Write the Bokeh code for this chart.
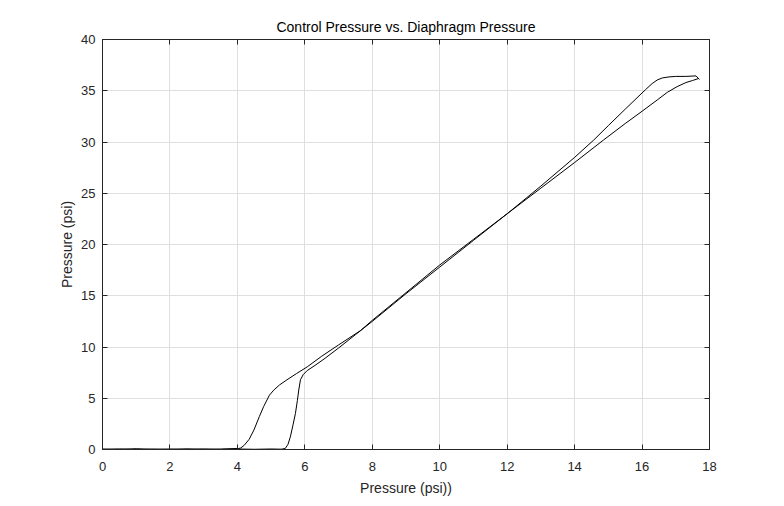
from bokeh.plotting import figure
from bokeh.models import LinearAxis, Range1d, FixedTicker
from bokeh.embed import file_html
from bokeh.resources import INLINE

# Rising branch (right branch near bottom, lower branch near top)
rise_x = [0.0, 0.5, 1.0, 1.5, 2.0, 2.5, 3.0, 3.5, 4.0, 4.5, 5.0, 5.3, 5.42, 5.5, 5.57, 5.65, 5.72, 5.78, 5.82, 5.87,
          5.95, 6.07, 6.3, 6.6, 7.0, 7.5, 8.0, 9.0, 10.0, 11.0, 12.0, 13.0, 14.0, 14.86, 15.5, 16.0, 16.45, 16.75,
          17.04, 17.3, 17.5, 17.68]
rise_y = [0.05, 0.0, 0.08, 0.0, 0.05, 0.0, 0.06, 0.0, 0.05, 0.02, 0.05, 0.03, 0.1, 0.5, 1.23, 2.4, 3.5, 4.8, 5.8, 6.8,
          7.3, 7.7, 8.2, 8.9, 9.9, 11.2, 12.5, 15.2, 17.8, 20.4, 23.0, 25.5, 28.0, 30.2, 31.8, 33.0, 34.1, 34.85,
          35.4, 35.8, 36.0, 36.2]

# Falling branch (upper branch near top, left branch near bottom)
fall_x = [17.7, 17.6, 17.3, 17.0, 16.8, 16.6, 16.45, 16.3, 16.1, 15.5, 15.0, 14.57, 14.0, 13.0, 12.0, 11.0, 10.0,
          9.0, 8.0, 7.65, 7.0, 6.5, 6.07, 5.75, 5.47, 5.25, 5.08, 4.95, 4.78, 4.65, 4.49, 4.35, 4.2, 4.1, 4.04,
          3.5, 3.0, 2.5, 2.0, 1.5, 1.0, 0.5, 0.0]
fall_y = [36.1, 36.45, 36.4, 36.4, 36.35, 36.25, 36.05, 35.7, 35.1, 33.2, 31.6, 30.2, 28.5, 25.7, 23.0, 20.5, 18.0,
          15.3, 12.6, 11.6, 10.2, 9.1, 8.06, 7.4, 6.8, 6.3, 5.8, 5.3, 4.2, 3.2, 1.9, 1.0, 0.4, 0.15, 0.1,
          0.05, 0.0, 0.07, 0.0, 0.05, 0.0, 0.06, 0.0]

x_ticks = [0, 2, 4, 6, 8, 10, 12, 14, 16, 18]
y_ticks = [0, 5, 10, 15, 20, 25, 30, 35, 40]

FONT = "Liberation Sans"
AX = "#262626"

p = figure(width=768, height=500, output_backend="svg", toolbar_location=None,
           x_range=Range1d(0, 18), y_range=Range1d(0, 40),
           min_border_left=102, min_border_right=59, min_border_top=39, min_border_bottom=51,
           title="Control Pressure vs. Diaphragm Pressure")
p.title.align = "center"
p.title.text_font = FONT
p.title.text_font_size = "14px"
p.title.text_font_style = "normal"
p.title.text_color = "#000000"
p.title.offset = 0

p.outline_line_color = AX
p.outline_line_width = 1
p.background_fill_color = "white"
p.border_fill_color = "white"

for ax, ticks in ((p.xaxis[0], x_ticks), (p.yaxis[0], y_ticks)):
    ax.ticker = FixedTicker(ticks=ticks)
    ax.major_tick_in = 5
    ax.major_tick_out = 0
    ax.minor_tick_in = 0
    ax.minor_tick_out = 0
    ax.axis_line_color = AX
    ax.major_tick_line_color = AX
    ax.major_label_text_font = FONT
    ax.major_label_text_font_size = "13px"
    ax.major_label_text_color = AX
    ax.axis_label_text_font = FONT
    ax.axis_label_text_font_size = "14px"
    ax.axis_label_text_font_style = "normal"
    ax.axis_label_text_color = AX

p.xaxis[0].axis_label = "Pressure (psi))"
p.yaxis[0].axis_label = "Pressure (psi)"
p.xaxis[0].major_label_standoff = 12
p.xaxis[0].axis_label_standoff = 6
p.yaxis[0].major_label_standoff = 7
p.yaxis[0].axis_label_standoff = 3

for side, ticks in (("above", x_ticks), ("right", y_ticks)):
    a = LinearAxis(ticker=FixedTicker(ticks=ticks), major_tick_in=5, major_tick_out=0,
                   minor_tick_in=0, minor_tick_out=0, axis_line_color=AX, major_tick_line_color=AX,
                   major_label_overrides={t: "" for t in ticks}, major_label_standoff=0)
    p.add_layout(a, side)

p.xgrid.ticker = FixedTicker(ticks=x_ticks)
p.ygrid.ticker = FixedTicker(ticks=y_ticks)
p.grid.grid_line_color = "#dfdfdf"
p.grid.grid_line_width = 1

p.line(rise_x, rise_y, line_color="black", line_width=1)
p.line(fall_x, fall_y, line_color="black", line_width=1)

open("out.html", "w").write(file_html(p, INLINE))
